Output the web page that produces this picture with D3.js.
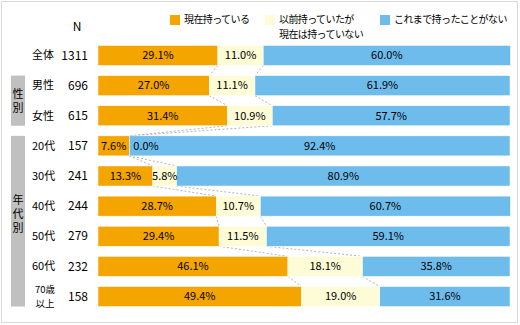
<!DOCTYPE html>
<head>
    <meta charset="utf-8">
    <title>所持状況</title>
    <style>
        body { margin: 0; background: #fff; }
        text { font-family: "Noto Sans CJK JP", "Noto Sans", sans-serif; fill: #000; }
    </style>
</head>
<body>

<script src="https://d3js.org/d3.v7.min.js"></script>

<script>

    var categories = ['全体', '男性', '女性', '20代', '30代', '40代', '50代', '60代', '70歳以上'];
    var counts = [1311, 696, 615, 157, 241, 244, 279, 232, 158];
    var seriesNames = ['現在持っている', '以前持っていたが現在は持っていない', 'これまで持ったことがない'];
    var owning = [29.1, 27.0, 31.4, 7.6, 13.3, 28.7, 29.4, 46.1, 49.4];
    var formerly = [11.0, 11.1, 10.9, 0.0, 5.8, 10.7, 11.5, 18.1, 19.0];
    var never = [60.0, 61.9, 57.7, 92.4, 80.9, 60.7, 59.1, 35.8, 31.6];
    var groups = [
        {name: '性別', first: '男性', last: '女性'},
        {name: '年代別', first: '20代', last: '70歳以上'}
    ];

    var colors = ['#f5a500', '#fdfcd6', '#6ebcec'];
    var width = 520, height = 325;

    var svg = d3.select('body').append('svg')
        .attr('width', width)
        .attr('height', height);

    // outer frame
    svg.append('rect')
        .attr('x', 1.5).attr('y', 1.5)
        .attr('width', width - 4).attr('height', height - 4)
        .attr('fill', 'none')
        .attr('stroke', '#d9d9d9');

    var x = d3.scaleLinear().domain([0, 100]).range([98, 510]);
    var y = d3.scaleBand().domain(categories)
        .range([40.5, 311.5])
        .paddingInner(0.335)
        .paddingOuter(0.165);

    var rows = categories.map(function(c, i) {
        var vals = [owning[i], formerly[i], never[i]];
        var acc = 0;
        var segs = vals.map(function(v, k) {
            var s = {key: k, x0: acc, x1: acc + v, value: v};
            acc += v;
            return s;
        });
        return {cat: c, n: counts[i], segs: segs};
    });

    // dashed connectors between neighbouring bars
    var links = [];
    for (var i = 0; i < rows.length - 1; i++) {
        [0, 1].forEach(function(k) {
            links.push({
                x1: x(rows[i].segs[k].x1), y1: y(rows[i].cat) + y.bandwidth(),
                x2: x(rows[i + 1].segs[k].x1), y2: y(rows[i + 1].cat)
            });
        });
    }
    svg.append('g').selectAll('line')
        .data(links)
        .enter().append('line')
        .attr('x1', function(d) { return d.x1; })
        .attr('y1', function(d) { return d.y1; })
        .attr('x2', function(d) { return d.x2; })
        .attr('y2', function(d) { return d.y2; })
        .attr('stroke', '#b4b4b4')
        .attr('stroke-dasharray', '2,2');

    var row = svg.selectAll('.row')
        .data(rows)
        .enter().append('g')
        .attr('class', 'row')
        .attr('transform', function(d) { return 'translate(0,' + y(d.cat) + ')'; });

    row.selectAll('rect')
        .data(function(d) { return d.segs; })
        .enter().append('rect')
        .attr('x', function(d) { return x(d.x0); })
        .attr('width', function(d) { return x(d.x1) - x(d.x0); })
        .attr('height', y.bandwidth())
        .attr('fill', function(d) { return colors[d.key]; })
        .attr('stroke', '#fff')
        .attr('stroke-width', 0.5);

    row.selectAll('.val')
        .data(function(d) { return d.segs; })
        .enter().append('text')
        .attr('class', 'val')
        .attr('x', function(d) {
            return d.value < 1 ? x(d.x0) + 4 : (x(d.x0) + x(d.x1)) / 2;
        })
        .attr('y', y.bandwidth() / 2)
        .attr('dy', '0.35em')
        .attr('text-anchor', function(d) { return d.value < 1 ? 'start' : 'middle'; })
        .attr('font-size', '11px')
        .text(function(d) { return d.value.toFixed(1) + '%'; });

    // row labels
    row.append('text')
        .attr('x', 32)
        .attr('y', y.bandwidth() / 2)
        .attr('dy', '0.35em')
        .attr('font-size', '11px')
        .attr('fill', '#333')
        .each(function(d) {
            var t = d3.select(this);
            if (d.cat === '70歳以上') {
                t.attr('x', 45).attr('text-anchor', 'middle').attr('dy', null);
                t.append('tspan').attr('x', 45).attr('y', 7).attr('font-size', '9.5px').text('70歳');
                t.append('tspan').attr('x', 45).attr('y', 21).attr('font-size', '9.5px').text('以上');
            } else {
                t.text(d.cat);
            }
        });

    row.append('text')
        .attr('x', 88)
        .attr('y', y.bandwidth() / 2)
        .attr('dy', '0.35em')
        .attr('text-anchor', 'end')
        .attr('font-size', '12px')
        .attr('fill', '#333')
        .text(function(d) { return d.n; });

    svg.append('text')
        .attr('x', 77).attr('y', 27)
        .attr('dy', '0.35em')
        .attr('text-anchor', 'middle')
        .attr('font-size', '12px')
        .attr('fill', '#333')
        .text('N');

    // grey group boxes with vertical captions
    var grp = svg.selectAll('.grp')
        .data(groups)
        .enter().append('g')
        .attr('class', 'grp');

    grp.append('rect')
        .attr('x', 11)
        .attr('width', 14)
        .attr('y', function(d) { return y(d.first); })
        .attr('height', function(d) { return y(d.last) + y.bandwidth() - y(d.first); })
        .attr('fill', '#c0c0c0');

    grp.append('text')
        .attr('x', 18)
        .attr('y', function(d) {
            var top = y(d.first), bottom = y(d.last) + y.bandwidth();
            return d.name.length > 2 ? (top + bottom) / 2 - 6 : (top + bottom) / 2 + 2;
        })
        .attr('text-anchor', 'middle')
        .attr('font-size', '11px')
        .attr('fill', '#333')
        .style('writing-mode', 'vertical-rl')
        .style('letter-spacing', '3px')
        .text(function(d) { return d.name; });

    // legend
    var legendItems = [
        {x: 170, lines: ['現在持っている']},
        {x: 265, lines: ['以前持っていたが', '現在は持っていない']},
        {x: 380, lines: ['これまで持ったことがない']}
    ];
    var legend = svg.selectAll('.legend')
        .data(legendItems)
        .enter().append('g')
        .attr('class', 'legend')
        .attr('transform', function(d) { return 'translate(' + d.x + ',15)'; });

    legend.append('rect')
        .attr('width', 10).attr('height', 10)
        .attr('fill', function(d, i) { return colors[i]; });

    legend.each(function(d) {
        var g = d3.select(this);
        d.lines.forEach(function(l, j) {
            g.append('text')
                .attr('x', 14)
                .attr('y', 4.5 + j * 14.5)
                .attr('dy', '0.35em')
                .attr('font-size', '10px')
                .style('letter-spacing', '-0.6px')
                .attr('fill', '#333')
                .text(l);
        });
    });

</script>

</body>
